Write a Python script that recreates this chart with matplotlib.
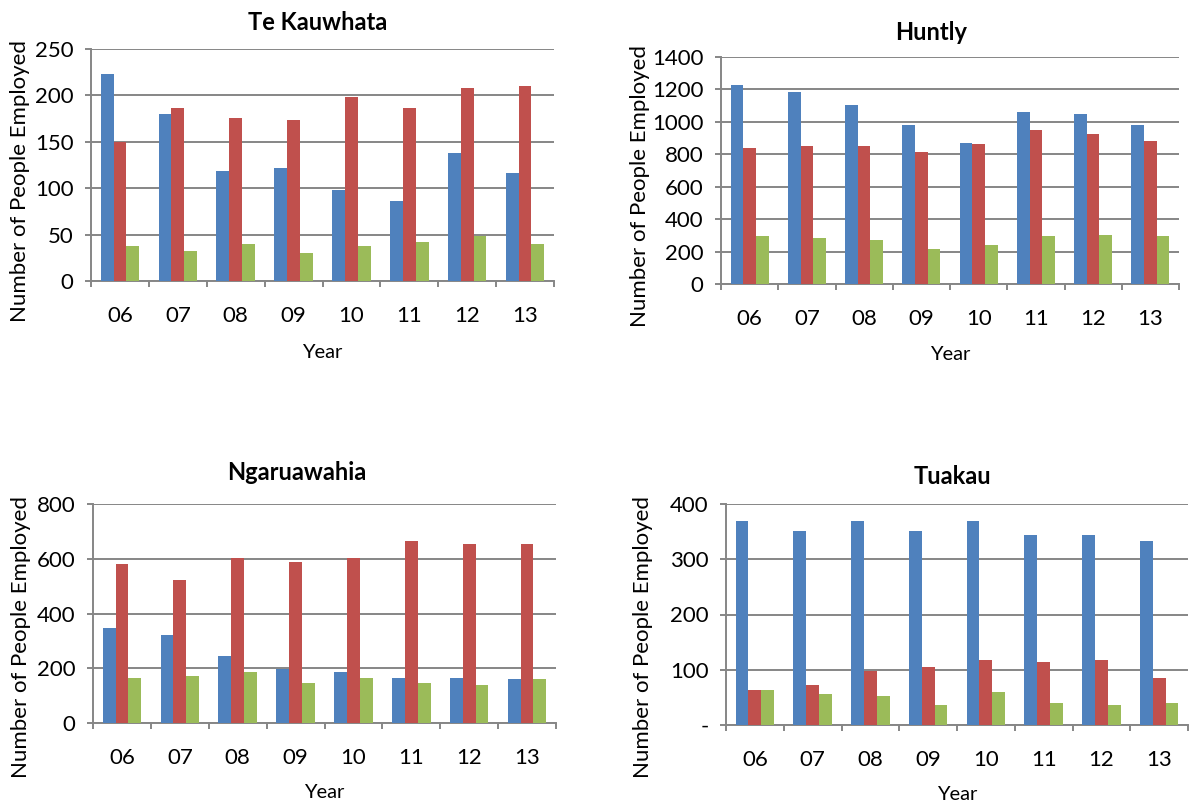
import numpy as np
import matplotlib
matplotlib.use("Agg")
from matplotlib import pyplot as plt
from matplotlib.ticker import MultipleLocator, FixedLocator

plt.rcParams['font.family'] = ['Lato', 'DejaVu Sans']

years = ['06', '07', '08', '09', '10', '11', '12', '13']

# three employment series per town (blue, red, green)
tk_blue = [223, 180, 118, 122, 98, 86, 138, 116]
tk_red = [150, 186, 176, 174, 198, 186, 208, 210]
tk_green = [38, 32, 40, 30, 38, 42, 48, 40]

hu_blue = [1227, 1182, 1106, 983, 872, 1059, 1049, 983]
hu_red = [839, 849, 849, 816, 861, 950, 927, 882]
hu_green = [294, 282, 271, 216, 238, 294, 304, 294]

ng_blue = [347, 321, 243, 197, 185, 165, 165, 159]
ng_red = [581, 523, 602, 587, 602, 666, 653, 653]
ng_green = [165, 173, 185, 146, 165, 146, 140, 159]

tu_blue = [369, 352, 369, 352, 369, 343, 343, 333]
tu_red = [63, 72, 98, 105, 117, 114, 117, 85]
tu_green = [63, 56, 53, 37, 60, 40, 37, 40]

colors = ['#4F81BD', '#C0504D', '#9BBB59']
grid_col = '#868686'

W, H = 1190, 807
fig = plt.figure(figsize=(W / 100, H / 100), dpi=100)


def px_box(l, t, r, b):
    return [l / W, 1 - b / H, (r - l) / W, (b - t) / H]


def fig_text(x, y, s, **kw):
    fig.text(x / W, 1 - y / H, s, **kw)


panels = [
    # title, series, ymax, step, axes box, title x, title y, ylabel x, ylabel y, xlabel y
    ('Te Kauwhata', [tk_blue, tk_red, tk_green], 250, 50, (91, 49, 554, 281), 318, 22, 20, 181, 352),
    ('Huntly', [hu_blue, hu_red, hu_green], 1400, 200, (721, 57, 1179, 284), 931, 32, 640, 186, 355),
    ('Ngaruawahia', [ng_blue, ng_red, ng_green], 800, 200, (93, 504, 556, 723), 297, 473, 21, 637, 793),
    ('Tuakau', [tu_blue, tu_red, tu_green], 400, 100, (726, 504, 1188, 725), 952, 477, 643, 637, 795),
]

x = np.arange(len(years))
w = 1 / 4.5

for title, series, ymax, step, bx, tx, ty, lx, ly, xly in panels:
    ax = fig.add_axes(px_box(*bx))
    for i, vals in enumerate(series):
        ax.bar(x + (i - 1) * w, vals, width=w, color=colors[i], zorder=3)
    ax.set_xlim(-0.5, len(years) - 0.5)
    ax.set_ylim(0, ymax)
    ax.yaxis.set_major_locator(MultipleLocator(step))
    ax.grid(axis='y', color=grid_col, linewidth=1.4, zorder=0)
    ax.set_axisbelow(True)
    for s in ['top', 'right']:
        ax.spines[s].set_visible(False)
    for s in ['left', 'bottom']:
        ax.spines[s].set_color(grid_col)
        ax.spines[s].set_linewidth(1.4)

    ax.set_xticks(x)
    ax.set_xticklabels(years)
    ax.xaxis.set_minor_locator(FixedLocator(np.arange(-0.5, len(years), 1)))
    ax.tick_params(axis='x', which='major', length=0, pad=18, labelsize=16)
    ax.tick_params(axis='x', which='minor', length=4.5, width=1.4, color=grid_col, direction='out')
    ax.tick_params(axis='y', length=4.5, width=1.4, color=grid_col, pad=8, labelsize=16)

    if title == 'Tuakau':
        ax.set_yticks(np.arange(0, ymax + 1, step))
        ax.set_yticklabels(['-'] + [str(v) for v in range(step, ymax + 1, step)])

    fig_text(tx, ty, title, ha='center', va='center', fontsize=17, fontweight='bold')
    fig_text(lx, ly, 'Number of People Employed', ha='center', va='center', rotation=90, fontsize=16)
    fig_text((bx[0] + bx[2]) / 2, xly, 'Year', ha='center', va='center', fontsize=14.5)

plt.savefig('out.png', dpi=100)
